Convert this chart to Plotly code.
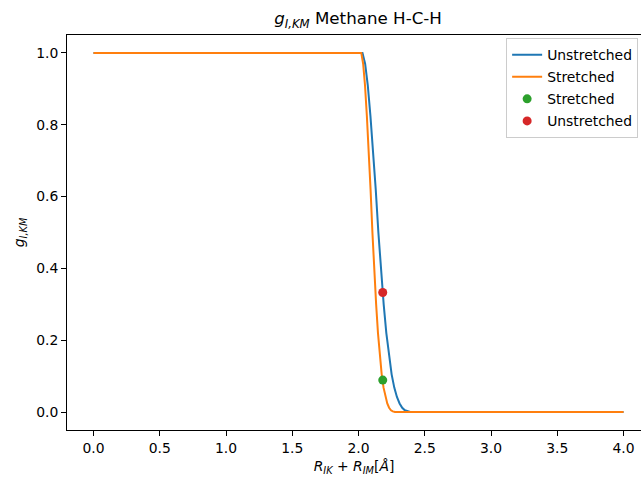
import plotly.graph_objects as go

# Unstretched cutoff curve
x_unstretched = [0.0, 2.03, 2.05, 2.07, 2.09, 2.11, 2.13, 2.15, 2.17, 2.19, 2.21,
                 2.23, 2.25, 2.27, 2.29, 2.31, 2.33, 2.35, 2.37, 2.39, 4.0]
g_unstretched = [1.0, 1.0, 0.97, 0.91, 0.825, 0.73, 0.62, 0.50, 0.39, 0.30, 0.22,
                 0.155, 0.105, 0.068, 0.042, 0.024, 0.012, 0.005, 0.002, 0.0, 0.0]

# Stretched cutoff curve
x_stretched = [0.0, 2.021, 2.035, 2.049, 2.063, 2.077, 2.091, 2.105, 2.119, 2.133, 2.147,
               2.161, 2.175, 2.189, 2.203, 2.217, 2.231, 2.245, 2.259, 2.275, 4.0]
g_stretched = [1.0, 1.0, 0.97, 0.91, 0.825, 0.73, 0.62, 0.50, 0.39, 0.30, 0.22,
               0.155, 0.105, 0.068, 0.042, 0.024, 0.012, 0.005, 0.002, 0.0, 0.0]

# Single evaluated points
pt_stretched_x = [2.183]
pt_stretched_g = [0.089]
pt_unstretched_x = [2.183]
pt_unstretched_g = [0.333]

x_ticks = [0.0, 0.5, 1.0, 1.5, 2.0, 2.5, 3.0, 3.5, 4.0]
y_ticks = [0.0, 0.2, 0.4, 0.6, 0.8, 1.0]

FONT = "DejaVu Sans"

fig = go.Figure()
fig.add_trace(go.Scatter(x=x_unstretched, y=g_unstretched, mode="lines", name="Unstretched",
                         line=dict(color="#1f77b4", width=2), legendgroup="a"))
fig.add_trace(go.Scatter(x=x_stretched, y=g_stretched, mode="lines", name="Stretched",
                         line=dict(color="#ff7f0e", width=2), legendgroup="b"))
fig.add_trace(go.Scatter(x=pt_stretched_x, y=pt_stretched_g, mode="markers", name="Stretched",
                         marker=dict(color="#2ca02c", size=9), legendgroup="c"))
fig.add_trace(go.Scatter(x=pt_unstretched_x, y=pt_unstretched_g, mode="markers", name="Unstretched",
                         marker=dict(color="#d62728", size=9), legendgroup="d"))

fig.update_layout(
    width=641, height=480,
    margin=dict(l=67, r=0, t=35, b=50),
    paper_bgcolor="white", plot_bgcolor="white",
    font=dict(family=FONT, size=13.9, color="black"),
    title=dict(text="<i>g</i><sub><i>I,KM</i></sub> Methane H-C-H", x=0.507, xref="paper",
               xanchor="center", y=0.962, yref="container", yanchor="middle",
               font=dict(size=16.7, family=FONT, color="black")),
    legend=dict(x=0.995, y=0.992, xanchor="right", yanchor="top", bgcolor="white",
                bordercolor="#cccccc", borderwidth=1, tracegroupgap=1,
                traceorder="grouped", font=dict(size=13.9, family=FONT)),
    xaxis=dict(range=[-0.2, 4.132], tickvals=x_ticks,
               ticktext=[f"{v:.1f}" for v in x_ticks],
               showgrid=False, zeroline=False, showline=True, linecolor="black", linewidth=1,
               mirror=True, ticks="outside", ticklen=5, tickcolor="black",
               title=dict(text="<i>R</i><sub><i>IK</i></sub> + <i>R</i><sub><i>IM</i></sub>[<i>Å</i>]",
                          standoff=6, font=dict(size=13.9))),
    yaxis=dict(range=[-0.05, 1.05], tickvals=y_ticks,
               ticktext=[f"{v:.1f}" for v in y_ticks],
               showgrid=False, zeroline=False, showline=True, linecolor="black", linewidth=1,
               mirror=False, ticks="outside", ticklen=5, tickcolor="black",
               title=dict(text="<i>g</i><sub><i>I,KM</i></sub>", standoff=8, font=dict(size=13.9))),
)

fig.write_html("out.html")
